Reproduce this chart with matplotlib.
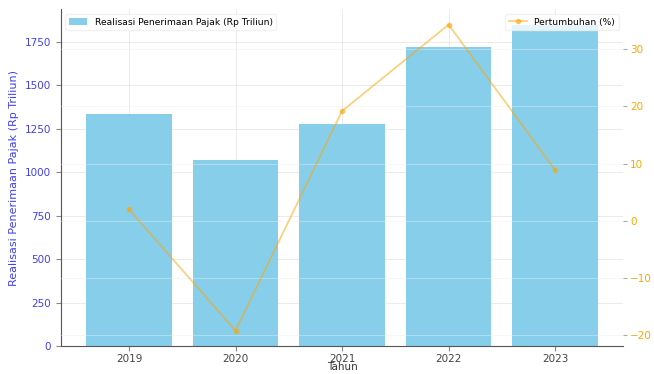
import matplotlib.pyplot as plt
import numpy as np

tahun = ["2019", "2020", "2021", "2022", "2023"]
penerimaan = [1336, 1073, 1278, 1721, 1845]
pertumbuhan = [2.0, -19.2, 19.2, 34.3, 8.9]

fig = plt.figure(figsize=(6.54, 3.74), dpi=100)
ax1 = fig.add_axes([0.093, 0.075, 0.86, 0.90])

x = np.arange(len(tahun))
ax1.bar(x, penerimaan, width=0.8, color='skyblue',
        label='Realisasi Penerimaan Pajak (Rp Triliun)', zorder=2)
ax1.set_xticks(x)
ax1.set_xticklabels(tahun, fontsize=7.5, color='#444444')
ax1.set_xlabel('Tahun', fontsize=7.5, labelpad=-1, color='#333333')
ax1.set_ylabel('Realisasi Penerimaan Pajak (Rp Triliun)', fontsize=8, color='#4040ee')
ax1.tick_params(axis='y', labelcolor='#4040ee', labelsize=7.5, color='#888888')
ax1.tick_params(axis='x', color='#888888', pad=2)
ax1.grid(True, color='#dddddd', linewidth=0.6, alpha=0.7, zorder=0)
ax1.set_axisbelow(True)
for s in ['top', 'right']:
    ax1.spines[s].set_visible(False)
ax1.spines['left'].set_color('#555555')
ax1.spines['bottom'].set_color('#555555')

ax2 = ax1.twinx()
ax2.plot(x, pertumbuhan, color='orange', marker='o', markersize=3,
         linewidth=1.2, alpha=0.55, label='Pertumbuhan (%)')
ax2.set_ylabel('Pertumbuhan (%)', fontsize=8, color='orange', labelpad=10)
ax2.tick_params(axis='y', labelcolor='orange', labelsize=7.5, color='#aaaaaa',
                length=3, pad=2)
ax2.grid(True, color='#eeeeee', linewidth=0.6, alpha=0.5)
for s in ['top', 'right', 'left', 'bottom']:
    ax2.spines[s].set_visible(False)

ax1.legend(loc='upper left', fontsize=6.6, framealpha=0.8, edgecolor='#eeeeee')
ax2.legend(loc='upper right', fontsize=6.6, framealpha=0.8, edgecolor='#eeeeee')

plt.savefig('out.png', dpi=100)
